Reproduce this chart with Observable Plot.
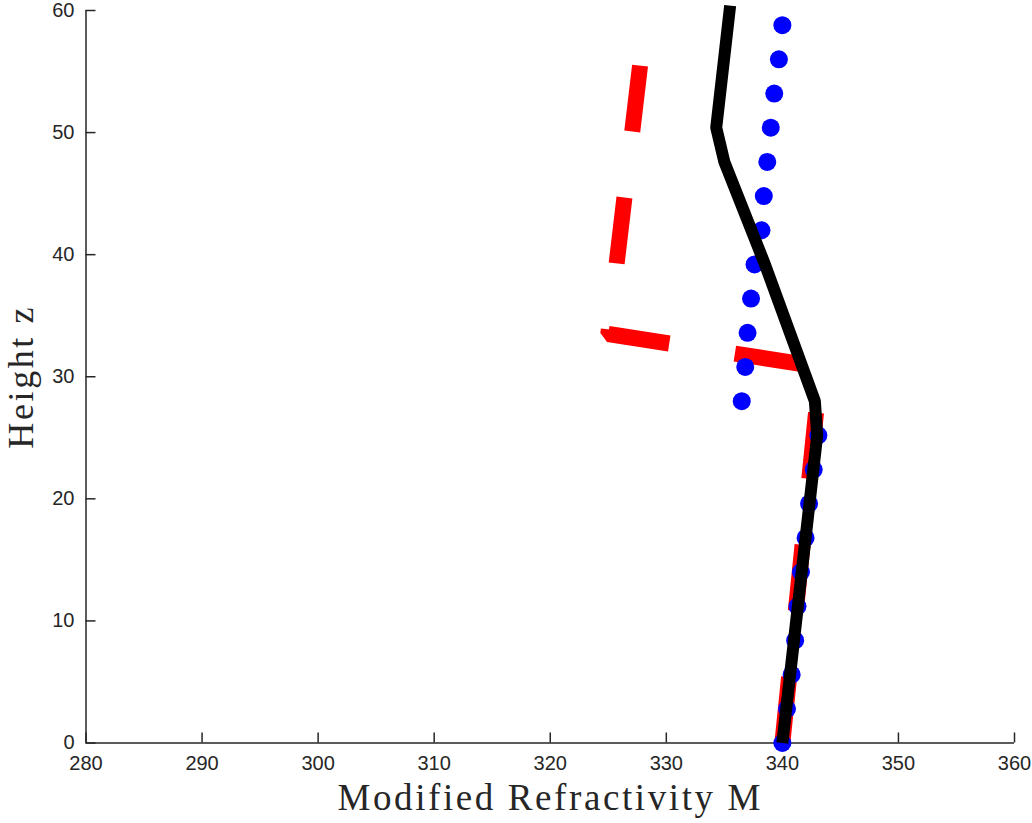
<!DOCTYPE html>
<html>
<head>
<meta charset="utf-8">
<script src="https://cdn.jsdelivr.net/npm/d3@7"></script>
<script src="https://cdn.jsdelivr.net/npm/@observablehq/plot@0.6"></script>
<style>
  html, body { margin: 0; padding: 0; background: #fff; }
  #chart svg { display: block; }
</style>
</head>
<body>
<div id="chart"></div>
<script>
// Axis ticks
const xTicks = [280, 290, 300, 310, 320, 330, 340, 350, 360];
const yTicks = [0, 10, 20, 30, 40, 50, 60];
const xLabel = "Modified Refractivity M";
const yLabel = "Height z";

// Blue dotted profile (markers)
const dotHeight = [0, 2.8, 5.6, 8.4, 11.2, 14, 16.8, 19.6, 22.4, 25.2, 28, 30.8, 33.6, 36.4, 39.2, 42, 44.8, 47.6, 50.4, 53.2, 56, 58.8];
const dotM = [340.0, 340.4, 340.8, 341.1, 341.3, 341.6, 342.0, 342.3, 342.7, 343.1, 336.5, 336.8, 337.0, 337.3, 337.6, 338.2, 338.4, 338.7, 339.0, 339.3, 339.7, 340.0];

// Red dashed profile
const redHeight = [0, 30.8, 33.5, 60];
const redM = [340.0, 343.3, 325.0, 328.3];

// Black solid profile
const blackHeight = [0, 25.2, 28, 39.2, 47.6, 50.4, 60.4];
const blackM = [340.0, 343.0, 342.8, 338.5, 335.0, 334.3, 335.5];

const dots = dotHeight.map((z, i) => ({z, m: dotM[i]}));
const red = redHeight.map((z, i) => ({z, m: redM[i]}));
const black = blackHeight.map((z, i) => ({z, m: blackM[i]}));

const axisColor = "#262626";
const tickFont = "'Liberation Sans', Arial, Helvetica, sans-serif";
const titleFont = "'Liberation Serif', 'Times New Roman', serif";

const plot = Plot.plot({
  width: 1032,
  height: 823,
  marginLeft: 85.5,
  marginRight: 18,
  marginTop: 10,
  marginBottom: 80.5,
  style: { background: "#fff", overflow: "visible" },
  x: { domain: [xTicks[0], xTicks[xTicks.length - 1]] },
  y: { domain: [yTicks[0], yTicks[yTicks.length - 1]] },
  marks: [
    Plot.ruleY([yTicks[0]], { stroke: axisColor, strokeWidth: 1.5 }),
    Plot.ruleX([xTicks[0]], { stroke: axisColor, strokeWidth: 1.5 }),
    Plot.axisX(xTicks, {
      anchor: "bottom", tickSize: -10, tickPadding: 22.5, label: null,
      fontSize: 20, fontFamily: tickFont, color: axisColor, strokeWidth: 1.5
    }),
    Plot.axisY(yTicks, {
      anchor: "left", tickSize: -10, tickPadding: 21.5, label: null,
      fontSize: 20, fontFamily: tickFont, color: axisColor, strokeWidth: 1.5
    }),
    Plot.line(red, {
      x: "m", y: "z", stroke: "#ff0000", strokeWidth: 16,
      strokeDasharray: "66.4,66.4", strokeLinejoin: "miter", strokeLinecap: "butt", curve: "linear"
    }),
    Plot.dot(dots, { x: "m", y: "z", r: 9, fill: "#0000ff", stroke: null }),
    Plot.line(black, {
      x: "m", y: "z", stroke: "#000000", strokeWidth: 12,
      strokeLinejoin: "miter", strokeLinecap: "butt", curve: "linear"
    }),
    Plot.text([xLabel], {
      frameAnchor: "bottom", dy: 55, fontSize: 37, fontFamily: titleFont,
      fill: axisColor, lineAnchor: "middle", textAnchor: "middle"
    }),
    Plot.text([yLabel], {
      frameAnchor: "left", dx: -65, rotate: -90, fontSize: 36, fontFamily: titleFont,
      fill: axisColor, lineAnchor: "middle", textAnchor: "middle"
    })
  ]
});

d3.select(plot).selectAll("g[aria-label='text'] text").style("letter-spacing", "2.6px");
document.getElementById("chart").appendChild(plot);
</script>
</body>
</html>
